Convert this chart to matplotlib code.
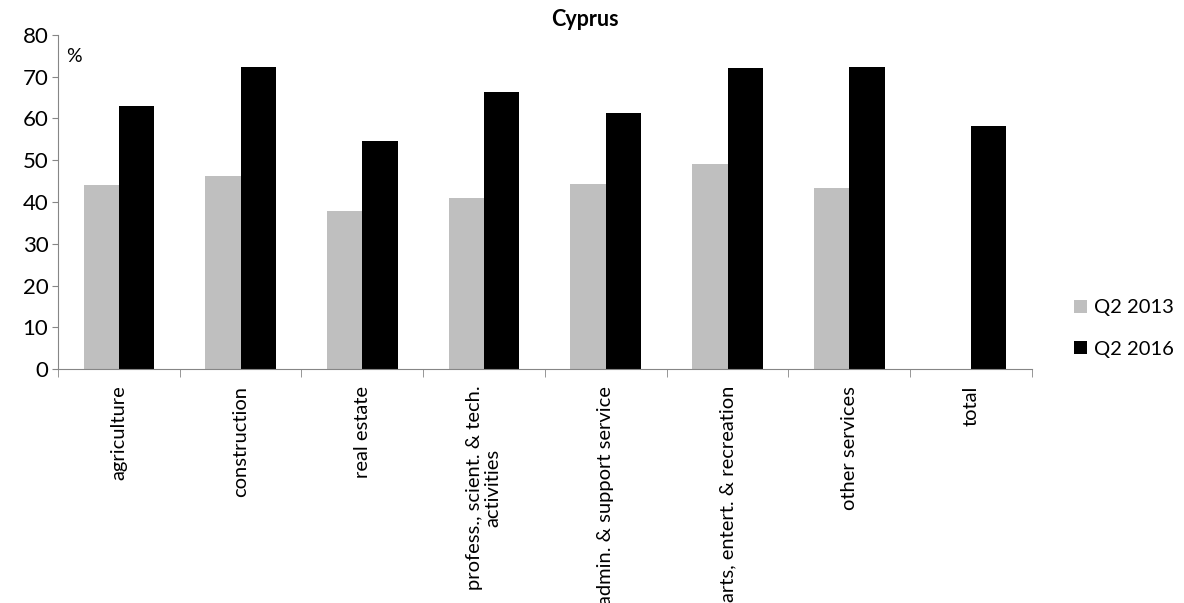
import numpy as np
import matplotlib.pyplot as plt

categories = ["agriculture", "construction", "real estate",
              "profess., scient. & tech.\nactivities", "admin. & support service",
              "arts, entert. & recreation", "other services", "total"]
q2_2013 = [44.0, 46.3, 37.8, 41.0, 44.2, 49.1, 43.4, np.nan]
q2_2016 = [63.1, 72.4, 54.7, 66.3, 61.2, 72.0, 72.4, 58.3]

plt.rcParams["font.family"] = ["Lato", "DejaVu Sans"]

fig = plt.figure(figsize=(11.84, 6.03), dpi=100)
ax = fig.add_axes([0.049, 0.388, 0.8225, 0.554])

x = np.arange(len(categories))
w = 0.29
ax.bar(x - w / 2, q2_2013, w, color="#bfbfbf", label="Q2 2013")
ax.bar(x + w / 2, q2_2016, w, color="black", label="Q2 2016")

ax.set_xlim(-0.5, len(categories) - 0.5)
ax.set_ylim(0, 80)
ax.set_yticks(range(0, 81, 10))
ax.tick_params(axis="y", labelsize=16, length=4, color="#868686", pad=3)

ax.set_xticks(x)
ax.set_xticklabels(categories, rotation=90, fontsize=14.5, ha="center", va="top",
                   multialignment="center", linespacing=1.1)
ax.tick_params(axis="x", length=0, pad=12)
ax.set_xticks(np.arange(-0.5, len(categories), 1), minor=True)
ax.tick_params(axis="x", which="minor", length=6, color="#868686")

for s in ["top", "right"]:
    ax.spines[s].set_visible(False)
for s in ["left", "bottom"]:
    ax.spines[s].set_color("#868686")

ax.text(0.008, 0.96, "%", transform=ax.transAxes, fontsize=14, va="top")
fig.text(585 / 1184, 1 - 19 / 603, "Cyprus", fontsize=15.5, fontweight="bold",
         ha="center", va="center")

fig.legend(loc="center left", bbox_to_anchor=(1074 / 1184, 1 - 328.5 / 603),
           frameon=False, fontsize=14.5, handlelength=0.65, handleheight=0.65,
           handletextpad=0.35, labelspacing=1.2, borderpad=0, borderaxespad=0)

fig.savefig("out.png", dpi=100)
